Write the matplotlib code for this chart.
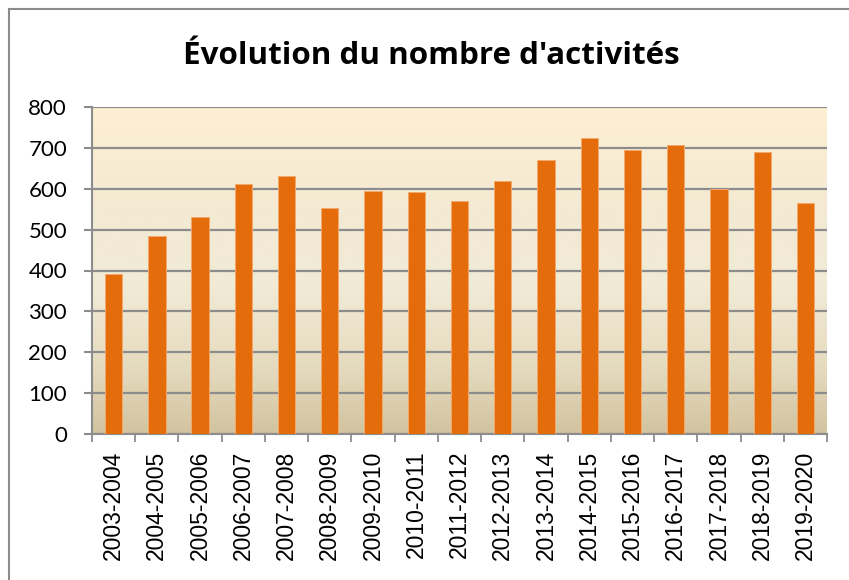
import matplotlib
matplotlib.use("Agg")
import matplotlib.pyplot as plt
import numpy as np
from matplotlib.colors import LinearSegmentedColormap
from matplotlib.patches import Rectangle

categories = ["2003-2004", "2004-2005", "2005-2006", "2006-2007", "2007-2008",
              "2008-2009", "2009-2010", "2010-2011", "2011-2012", "2012-2013",
              "2013-2014", "2014-2015", "2015-2016", "2016-2017", "2017-2018",
              "2018-2019", "2019-2020"]
values = [391, 484, 531, 612, 632, 552, 595, 591, 569, 620,
          671, 725, 695, 708, 600, 691, 564]
yticks = [0, 100, 200, 300, 400, 500, 600, 700, 800]
title = "Évolution du nombre d'activités"

W, H, DPI = 849, 580, 100
fig = plt.figure(figsize=(W / DPI, H / DPI), dpi=DPI)
fig.patch.set_facecolor("white")

# axes position in pixels
x0, x1 = 92, 827
y_top, y_bot = 107, 434
ax = fig.add_axes([x0 / W, 1 - y_bot / H, (x1 - x0) / W, (y_bot - y_top) / H])

n = len(categories)
xs = np.arange(n)

# gradient background
cmap = LinearSegmentedColormap.from_list(
    "bg", [(0.0, "#d3c4a0"), (0.22, "#e6dcc0"), (0.45, "#f1ead6"),
           (0.7, "#f4ead3"), (1.0, "#fdefd2")])
grad = np.linspace(0, 1, 256).reshape(-1, 1)
ax.imshow(grad, cmap=cmap, origin="lower", aspect="auto",
          extent=(-0.5, n - 0.5, 0, 800), zorder=-2)

ax.bar(xs, values, width=0.40, color="#e46c0a", edgecolor="#f3a86a",
       linewidth=0.7, zorder=3)

ax.set_xlim(-0.5, n - 0.5)
ax.set_ylim(0, 800)
ax.set_yticks(yticks)
ax.set_yticklabels([str(v) for v in yticks])
ax.yaxis.grid(True, color="#8c8c8c", linewidth=1.6, zorder=1)
ax.set_axisbelow(True)

ax.set_xticks(np.arange(-0.5, n, 1.0))
ax.set_xticklabels([])
ax.set_xticks(xs, minor=True)
ax.set_xticklabels(categories, minor=True, rotation=90,
                   fontfamily="Liberation Sans", fontsize=16.5)
ax.tick_params(axis="x", which="minor", length=0, pad=12)
ax.tick_params(axis="x", which="major", length=6, width=1.3, color="#8c8c8c",
               direction="out")
ax.tick_params(axis="y", length=6, width=1.5, color="#8c8c8c", direction="out",
               labelsize=16, pad=12)
for lab in ax.get_yticklabels():
    lab.set_fontfamily("Lato")

for s in ["top", "right"]:
    ax.spines[s].set_visible(False)
for s in ["left", "bottom"]:
    ax.spines[s].set_color("#8c8c8c")
    ax.spines[s].set_linewidth(1.5)

fig.text(431.5 / W, 1 - 64 / H, title, ha="center", va="baseline",
         fontsize=22.6, fontweight="bold", fontfamily="Open Sans")

# outer chart border (right/bottom lie outside the image)
fig.patches.append(Rectangle((9 / W, -0.1), 2, 1 - 8.5 / H + 0.1,
                             transform=fig.transFigure, fill=False,
                             edgecolor="#8c8c8c", linewidth=1.5))

fig.savefig("out.png", dpi=DPI)
